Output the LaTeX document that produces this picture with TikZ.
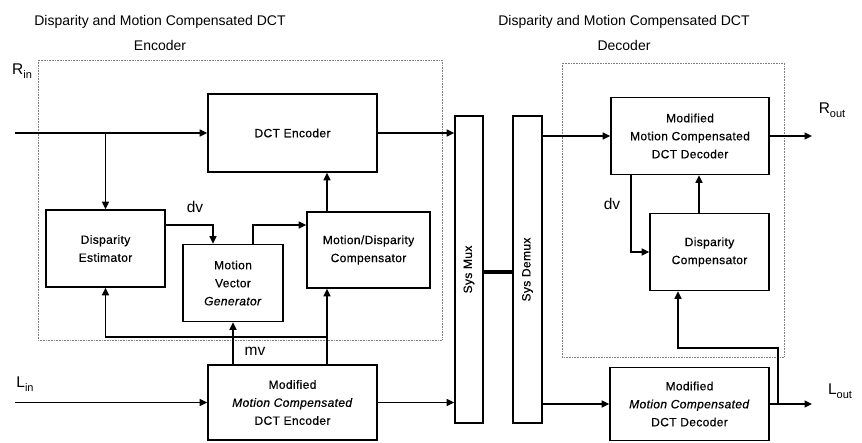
\documentclass[tikz,border=0pt]{standalone}
\usepackage{fontspec}
\setmainfont{Liberation Sans}
\newfontfamily\boxfont{Liberation Sans}[FakeBold=0.6, LetterSpace=3]
\usetikzlibrary{positioning, calc, arrows.meta}

\begin{document}
\begin{tikzpicture}[
    x=1pt, y=-1pt,
    block/.style={draw, line width=1.7pt, align=center, inner sep=2pt,
                  font=\boxfont\fontsize{12}{18}\selectfont},
    arw/.style={-{Triangle[length=7.5pt, width=7pt]}, line width=1.4pt},
    frame/.style={densely dotted, gray, line width=0.6pt},
    sig/.style={font=\fontsize{15.5}{15.5}\selectfont, inner sep=1pt},
    title/.style={font=\fontsize{14}{25}\selectfont, align=center},
]
\useasboundingbox (0,0) rectangle (862,443);

% --- Titles ---
\node[title] (enctitle) at (160,33)
    {Disparity and Motion Compensated DCT\\Encoder};
\node[title] (dectitle) at (624,33)
    {Disparity and Motion Compensated DCT\\Decoder};

% --- Dotted frames ---
\draw[frame] (38,60) rectangle (442,340);
\draw[frame] (562,63) rectangle (784,357);

% --- Encoder blocks ---
\node[block, minimum width=169, minimum height=78] (enc) at (292.5,133)
    {DCT Encoder};
\node[block, minimum width=119, minimum height=77] (dest) at (105.5,248.5)
    {Disparity\\Estimator};
\node[block, minimum width=100, minimum height=77] (mvg) at (233,283)
    {Motion\\Vector\\\textit{Generator}};
\node[block, minimum width=123, minimum height=76] (mdc) at (368.5,250)
    {Motion/Disparity\\Compensator};
\node[block, minimum width=169, minimum height=75] (menc) at (292.5,402.5)
    {Modified\\\textit{Motion Compensated}\\DCT Encoder};

% --- Mux / Demux ---
\node[block, minimum width=28, minimum height=307, inner sep=0pt] (mux)
    at (469,269.5) {\rotatebox{90}{Sys Mux}};
\node[block, minimum width=29, minimum height=307, inner sep=0pt] (demux)
    at (527.5,269.5) {\rotatebox{90}{Sys Demux}};

% --- Decoder blocks ---
\node[block, minimum width=158, minimum height=77] (rdec) at (690,136)
    {Modified\\Motion Compensated\\DCT Decoder};
\node[block, minimum width=119, minimum height=77] (dcomp) at (709.5,252)
    {Disparity\\Compensator};
\node[block, minimum width=159, minimum height=73] (ldec) at (689.5,404)
    {Modified\\\textit{Motion Compensated}\\DCT Decoder};

% --- Free ends ---
\coordinate (rin) at (15,133);
\coordinate (lin) at (15,402.5);
\coordinate (rout) at (812,136);
\coordinate (lout) at (812,404);
\coordinate (rsplit) at (dest.north |- enc.west);
\coordinate (mcup) at ([xshift=34.5pt]menc.north);
\coordinate (fb) at (mcup |- 0,337);
\coordinate (lsplit) at (778,404);
\coordinate (lturn) at (678,348);

% --- Signal labels ---
\node[sig] (rinlab) at (22,71) {R\raisebox{-0.45ex}{\fontsize{11}{11}\selectfont in}};
\node[sig] (linlab) at (25,384) {L\raisebox{-0.45ex}{\fontsize{11}{11}\selectfont in}};
\node[sig] (routlab) at (832,110) {R\raisebox{-0.45ex}{\fontsize{11}{11}\selectfont out}};
\node[sig] (loutlab) at (840,391) {L\raisebox{-0.45ex}{\fontsize{11}{11}\selectfont out}};
\node[sig] (dvenc) at (195,207) {dv};
\node[sig] (dvdec) at (612,204) {dv};
\node[sig] (mvlab) at (255,351) {mv};

% --- Encoder flow ---
\draw[arw] (rin) -- (enc.west);
\draw[arw] (rsplit) -- (dest.north);
\draw[arw] ([yshift=23.5pt]dest.east) -| ([xshift=-20pt]mvg.north);
\draw[arw] ([xshift=20pt]mvg.north) |- ([yshift=25pt]mdc.west);
\draw[arw] ([xshift=-41.5pt]mdc.north) -- ([xshift=-41.5pt]mdc.north |- enc.south);
\draw[arw] (enc.east) -- (mux.west |- enc.east);
\draw[arw] (lin) -- (menc.west);
\draw[arw] (menc.north -| mvg.south) -- (mvg.south);
\draw[arw] (mcup) -- (mcup |- mdc.south);
\draw[arw] (fb) -| (dest.south);
\draw[arw] (menc.east) -- (mux.west |- menc.east);

% --- Mux to Demux ---
\draw[line width=3.5pt] (mux.east |- 0,272) -- (demux.west |- 0,272);

% --- Decoder flow ---
\draw[arw] (demux.east |- rdec.west) -- (rdec.west);
\draw[arw] (rdec.east) -- (rout);
\draw[arw] ([xshift=-59pt]rdec.south) |- (dcomp.west);
\draw[arw] ([xshift=-10.5pt]dcomp.north) -- ([xshift=-10.5pt]dcomp.north |- rdec.south);
\draw[arw] (demux.east |- ldec.west) -- (ldec.west);
\draw[arw] (ldec.east) -- (lout);
\draw[arw] (lsplit) |- (lturn) -- (lturn |- dcomp.south);
\end{tikzpicture}
\end{document}
